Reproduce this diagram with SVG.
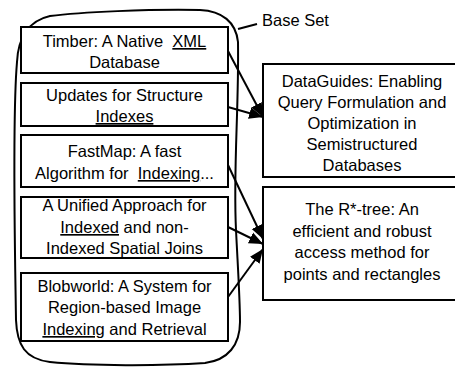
<svg xmlns="http://www.w3.org/2000/svg" width="455" height="367" viewBox="0 0 455 367">
  <style>
    .box { fill: #fff; stroke: #000; stroke-width: 2; }
    .t { font-family: "Liberation Sans", Arial, sans-serif; font-size: 16.5px; fill: #000; text-anchor: middle; }
    .lbl { font-family: "Liberation Sans", Arial, sans-serif; font-size: 16.5px; fill: #000; }
    .u { text-decoration: underline; text-decoration-thickness: 2px; text-underline-offset: 2px; }
    .edge { fill: none; stroke: #000; stroke-width: 2; marker-end: url(#head); }
    .outline { fill: none; stroke: #000; stroke-width: 2; }
  </style>
  <defs>
    <marker id="head" markerUnits="userSpaceOnUse" markerWidth="15" markerHeight="13" refX="13" refY="5.5" orient="auto" viewBox="0 0 14 11">
      <path d="M0,0 L13,5.5 L0,11 Z" fill="#000"/>
    </marker>
  </defs>

  <!-- hand-drawn outline of the base set -->
  <g id="base-set">
    <path class="outline" d="M17,62 C18,40 27,21 50,16 C80,12 150,9 200,10 C222,11 236,22 238,42 C239,110 233,170 236,230 C238,270 240,300 240,322 C240,345 228,360 205,363 C160,366 90,366 50,362 C25,359 17,345 16,320 C15,250 12,120 17,62 Z"/>
    <path class="outline" d="M238,29 L257,24"/>
    <text class="lbl" x="262" y="26">Base Set</text>
  </g>

  <g id="timber">
    <rect class="box" x="21" y="27" width="207" height="46"/>
    <text class="t" xml:space="preserve"><tspan x="124.5" y="47">Timber: A Native  <tspan class="u">XML</tspan></tspan><tspan x="124.5" y="68">Database</tspan></text>
  </g>

  <g id="updates">
    <rect class="box" x="21" y="83" width="207" height="43"/>
    <text class="t"><tspan x="124.5" y="101">Updates for Structure</tspan><tspan x="124.5" y="122" class="u">Indexes</tspan></text>
  </g>

  <g id="fastmap">
    <rect class="box" x="21" y="135" width="207" height="52"/>
    <text class="t" xml:space="preserve"><tspan x="124.5" y="157">FastMap: A fast</tspan><tspan x="124.5" y="179">Algorithm for  <tspan class="u">Indexing</tspan>...</tspan></text>
  </g>

  <g id="unified">
    <rect class="box" x="21" y="197" width="207" height="61"/>
    <text class="t"><tspan x="124.5" y="211">A Unified Approach for</tspan><tspan x="124.5" y="233"><tspan class="u">Indexed</tspan> and non-</tspan><tspan x="124.5" y="254">Indexed Spatial Joins</tspan></text>
  </g>

  <g id="blobworld">
    <rect class="box" x="21" y="273" width="207" height="68"/>
    <text class="t"><tspan x="124.5" y="292">Blobworld: A System for</tspan><tspan x="124.5" y="313">Region-based Image</tspan><tspan x="124.5" y="335"><tspan class="u">Indexing</tspan> and Retrieval</tspan></text>
  </g>

  <g id="dataguides">
    <rect class="box" x="263" y="64" width="210" height="113"/>
    <text class="t"><tspan x="362" y="87">DataGuides: Enabling</tspan><tspan x="362" y="108">Query Formulation and</tspan><tspan x="362" y="129">Optimization in</tspan><tspan x="362" y="150">Semistructured</tspan><tspan x="362" y="171">Databases</tspan></text>
  </g>

  <g id="rstar">
    <rect class="box" x="263" y="187" width="210" height="113"/>
    <text class="t"><tspan x="362" y="215">The R*-tree: An</tspan><tspan x="362" y="237">efficient and robust</tspan><tspan x="362" y="258">access method for</tspan><tspan x="362" y="280">points and rectangles</tspan></text>
  </g>

  <g id="connectors">
    <path class="edge" d="M228,51 L263,117"/>
    <path class="edge" d="M228,107 L263,117"/>
    <path class="edge" d="M228,165 L263,239"/>
    <path class="edge" d="M228,227 L263,244"/>
    <path class="edge" d="M228,297 L263,249"/>
  </g>
</svg>
